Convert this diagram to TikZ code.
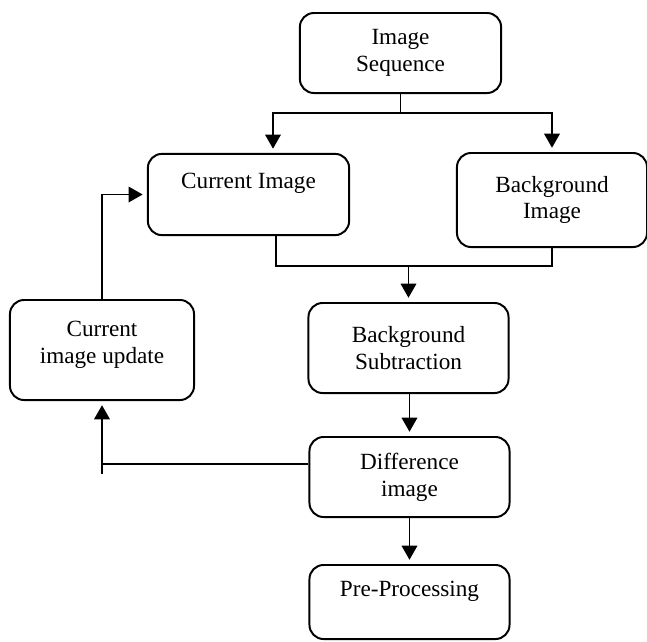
\documentclass[tikz,border=0pt]{standalone}
\usepackage{fontspec}
\setmainfont{Liberation Serif}
\usetikzlibrary{arrows.meta}
\usetikzlibrary{calc}

\begin{document}
\begin{tikzpicture}[x=0.025cm,y=-0.025cm,line width=1.4pt]
	\useasboundingbox (0,0) rectangle (647,641);
	\tikzstyle{every node}=[draw,rounded corners=10pt,align=center,inner sep=0pt,font=\fontsize{16.5}{19}\selectfont];
	\tikzstyle{arr}=[-{Triangle[length=10pt,width=11pt]},shorten >=3pt];
	\node[minimum width=5.03cm,minimum height=2cm] (seq) at (400.5,53) {Image\\Sequence};
	\node[minimum width=5.03cm,minimum height=2.03cm] (cur) at (248.5,194.5) {Current Image\\\mbox{}};
	\node[minimum width=4.75cm,minimum height=2.35cm] (bg) at (552,200) {Background\\Image};
	\node[minimum width=4.6cm,minimum height=2.5cm] (upd) at (102,350) {Current\\image update\\[-0.5em]\mbox{}};
	\node[minimum width=5cm,minimum height=2.25cm] (sub) at (408.5,348) {Background\\Subtraction};
	\node[minimum width=5cm,minimum height=2cm] (diff) at (409.5,477) {Difference\\image};
	\node[minimum width=5cm,minimum height=1.85cm] (pre) at (409.5,602) {Pre-Processing\\\mbox{}};
	\draw (seq.south) -- ++(0,19) coordinate (split);
	\draw[arr] (split) -| ($(cur.north)+(24.5,0)$);
	\draw[arr] (split) -| (bg.north);
	\draw ($(cur.south)+(27.5,0)$) -- ++(0,29.5) coordinate (merge) -| (bg.south);
	\draw[arr] (merge -| sub.north) -- (sub.north);
	\draw[arr] (upd.north) |- (cur.west);
	\draw[arr] (diff.north |- sub.south) -- (diff.north);
	\coordinate (back) at ($(diff.west)+(0,-13)$);
	\draw[arr] (back) -| (upd.south);
	\draw (back -| upd.south) -- ++(0,10);
	\draw[arr] (diff.south) -- (pre.north);
\end{tikzpicture}
\end{document}
